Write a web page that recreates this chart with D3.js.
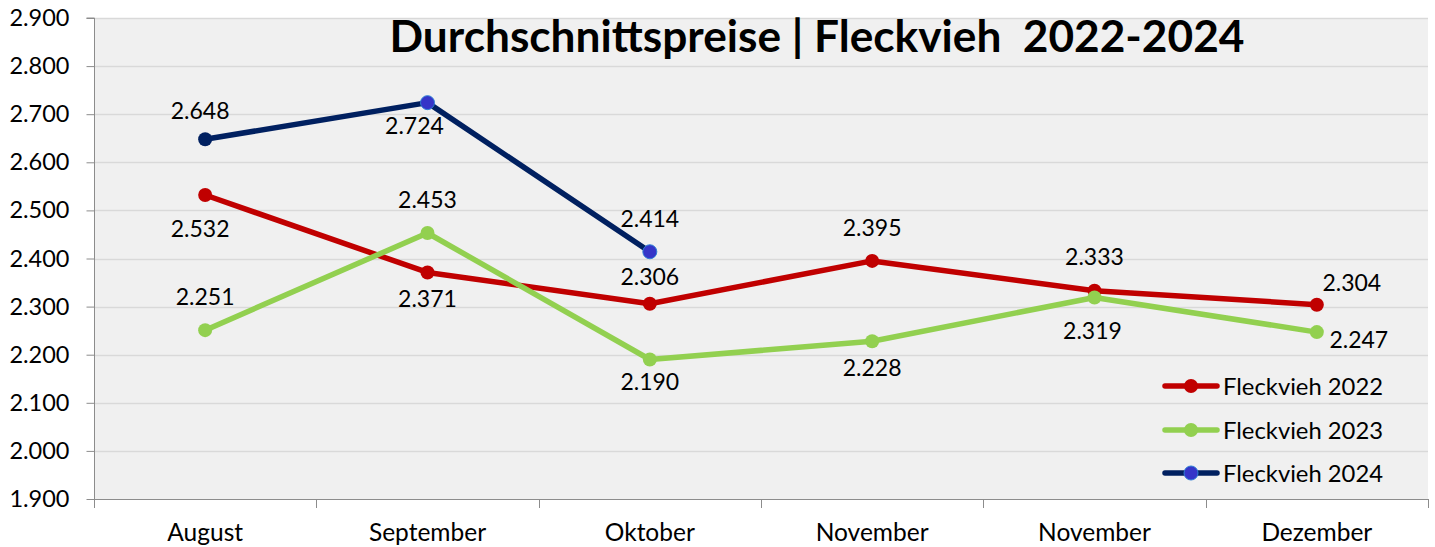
<!DOCTYPE html>
<html>
<head>
<meta charset="utf-8">
<script src="https://cdn.jsdelivr.net/npm/d3@7"></script>
<style>
  html, body { margin: 0; padding: 0; background: #fff; }
  svg { display: block; font-family: Lato, "Open Sans", sans-serif; }
</style>
</head>
<body>
<svg id="chart" width="1435" height="547"></svg>
<script>
// ---- data ----
const categories = ["August", "September", "Oktober", "November", "November", "Dezember"];
const series2022 = [2532, 2371, 2306, 2395, 2333, 2304];
const series2023 = [2251, 2453, 2190, 2228, 2319, 2247];
const series2024 = [2648, 2724, 2414];
const seriesNames = ["Fleckvieh 2022", "Fleckvieh 2023", "Fleckvieh 2024"];
const yTicks = [1900, 2000, 2100, 2200, 2300, 2400, 2500, 2600, 2700, 2800, 2900];
const titleText = "Durchschnittspreise | Fleckvieh  2022-2024";

// ---- styles / label placement (not data) ----
const colors = ["#c00000", "#92d050", "#002060"];
const markerFill = [
  null,
  null,
  ["#002060", "#3535c8", "#3535c8"]
];
// label offsets [dx, dy(baseline)] relative to the point
const labelOffsets = [
  [[-5, 42], [0, 35], [0, -19], [0, -25], [0, -26], [35, -14]],
  [[0, -25], [0, -25], [0, 30], [0, 35], [-2, 42], [42, 16]],
  [[-5, -20], [-13, 31], [0, -25]]
];

const de = d3.formatLocale({decimal: ",", thousands: ".", grouping: [3], currency: ["", " €"]});
const fmt = de.format(",.0f");

const svg = d3.select("#chart");
const m = {left: 94, right: 1428, top: 18, bottom: 499};

const x = d3.scaleBand().domain(d3.range(categories.length)).range([m.left, m.right]).padding(0);
const y = d3.scaleLinear().domain([1900, 2900]).range([m.bottom, m.top]);

// plot background
svg.append("rect")
  .attr("x", m.left).attr("y", m.top)
  .attr("width", m.right - m.left).attr("height", m.bottom - m.top)
  .attr("fill", "#f0f0f0");

// gridlines
svg.append("g").selectAll("line").data(yTicks.filter(d => d !== 1900)).join("line")
  .attr("x1", m.left).attr("x2", m.right)
  .attr("y1", d => Math.round(y(d)) + 0.5).attr("y2", d => Math.round(y(d)) + 0.5)
  .attr("stroke", "#d9d9d9").attr("stroke-width", 1.3);

// y axis
const yAxis = svg.append("g")
  .attr("transform", `translate(${m.left + 0.5},0)`)
  .call(d3.axisLeft(y).tickValues(yTicks).tickFormat(fmt).tickSize(8).tickPadding(17));
yAxis.select(".domain").attr("stroke", "#8c8c8c").attr("d", `M-8,${m.top}H0V${m.bottom}`);
yAxis.selectAll(".tick line").attr("stroke", "#8c8c8c");
yAxis.selectAll(".tick text").attr("font-size", 23.5).attr("fill", "#000").attr("font-family", "Lato");

// x axis: ticks at category boundaries
const xAxisG = svg.append("g");
xAxisG.append("line")
  .attr("x1", m.left).attr("x2", m.right)
  .attr("y1", m.bottom + 0.5).attr("y2", m.bottom + 0.5)
  .attr("stroke", "#8c8c8c");
const bounds = d3.range(categories.length + 1).map(i => i < categories.length ? x(i) : x(i - 1) + x.bandwidth());
xAxisG.selectAll("line.tk").data(bounds).join("line").attr("class", "tk")
  .attr("x1", d => Math.round(d) + 0.5).attr("x2", d => Math.round(d) + 0.5)
  .attr("y1", m.bottom).attr("y2", m.bottom + 9)
  .attr("stroke", "#8c8c8c");
xAxisG.selectAll("text").data(categories).join("text")
  .attr("x", (d, i) => x(i) + x.bandwidth() / 2)
  .attr("y", 541)
  .attr("text-anchor", "middle")
  .attr("font-size", 24.5)
  .attr("fill", "#000")
  .text(d => d);

// title
const title = svg.append("text")
  .attr("x", 817).attr("y", 52)
  .attr("text-anchor", "middle")
  .attr("font-weight", "bold")
  .attr("font-size", 40)
  .attr("fill", "#000")
  .style("white-space", "pre")
  .text(titleText);
const tl = title.node().getComputedTextLength();
if (tl > 0) title.attr("font-size", 40 * 855 / tl);

// series
const allSeries = [series2022, series2023, series2024];
const cx = i => x(i) + x.bandwidth() / 2;
const line = d3.line().x((d, i) => cx(i)).y(d => y(d));

allSeries.forEach((vals, s) => {
  const g = svg.append("g");
  g.append("path").datum(vals)
    .attr("d", line)
    .attr("fill", "none")
    .attr("stroke", colors[s])
    .attr("stroke-width", 5.5)
    .attr("stroke-linejoin", "round")
    .attr("stroke-linecap", "round");
  g.selectAll("circle").data(vals).join("circle")
    .attr("cx", (d, i) => cx(i))
    .attr("cy", d => y(d))
    .attr("r", 7)
    .attr("fill", (d, i) => markerFill[s] ? markerFill[s][i] : colors[s])
    .attr("stroke", (d, i) => (markerFill[s] && markerFill[s][i] !== colors[s]) ? "#2f7fd6" : "none")
    .attr("stroke-width", 1);
  g.selectAll("text").data(vals).join("text")
    .attr("x", (d, i) => cx(i) + labelOffsets[s][i][0])
    .attr("y", (d, i) => y(d) + labelOffsets[s][i][1])
    .attr("text-anchor", "middle")
    .attr("font-size", 23)
    .attr("fill", "#000")
    .text(d => fmt(d));
});

// legend
const legY = [386, 430, 473];
seriesNames.forEach((name, s) => {
  const g = svg.append("g").attr("transform", `translate(1163,${legY[s]})`);
  g.append("line").attr("x1", 2).attr("x2", 54).attr("y1", 0).attr("y2", 0)
    .attr("stroke", colors[s]).attr("stroke-width", 5.5).attr("stroke-linecap", "round");
  g.append("circle").attr("cx", 28).attr("cy", 0).attr("r", 7)
    .attr("fill", s === 2 ? "#3535c8" : colors[s])
    .attr("stroke", s === 2 ? "#2f7fd6" : "none").attr("stroke-width", 1);
  g.append("text").attr("x", 60).attr("y", 8.5)
    .attr("font-size", 23.8).attr("fill", "#000").text(name);
});
</script>
</body>
</html>
